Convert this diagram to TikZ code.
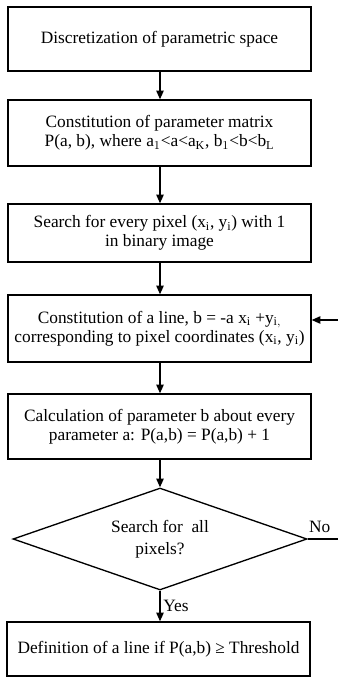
\documentclass[tikz,border=0pt]{standalone}
\usepackage{fontspec}
\setmainfont{Liberation Serif}
\usetikzlibrary{arrows.meta,shapes.geometric}
\begin{document}
\begin{tikzpicture}[x=0.75pt,y=-0.75pt,
  font=\fontsize{13}{14.5}\selectfont,
  box/.style={draw,line width=1pt,rectangle,minimum width=227.25pt,align=center,inner sep=0pt},
  dec/.style={draw,line width=1pt,diamond,aspect=2.88,minimum width=220.5pt,minimum height=76.5pt,inner sep=0pt,align=center},
  arr/.style={line width=1pt,-{Triangle[length=6.5pt,width=5.5pt]}},
  lab/.style={inner sep=0pt}]
\useasboundingbox (0,0) rectangle (338,689);
\node[box,minimum height=48pt] (b1) at (159.5,39) {Discretization of parametric space};
\node[box,minimum height=49.5pt] (b2) at (159.5,133) {Constitution of parameter matrix\\P(a, b), where a$_1$<a<a$_\mathrm{K}$, b$_1$<b<b$_\mathrm{L}$};
\node[box,minimum height=43.5pt] (b3) at (159.5,233) {Search for every pixel (x$_\mathrm{i}$, y$_\mathrm{i}$) with 1\\in binary image};
\node[box,minimum height=50.25pt] (b4) at (159.5,328.5) {Constitution of a line, b = -a x$_\mathrm{i}$ +y$_\mathrm{i,}$\\corresponding to pixel coordinates (x$_\mathrm{i}$, y$_\mathrm{i}$)};
\node[box,minimum height=48.75pt] (b5) at (159.5,426.5) {Calculation of parameter b about every\\parameter a: P(a,b) = P(a,b) + 1};
\node[dec] (d) at (160,539) {Search for\ \ all\\[2pt]pixels?};
\node[box,minimum height=40.5pt] (b6) at (158.5,649) {Definition of a line if P(a,b) ≥ Threshold};
\coordinate (fb) at (338,320);
\coordinate (no) at (338,539);
\draw[arr] (b1.south -| 160,0) -- (b2.north -| 160,0);
\draw[arr] (b2.south -| 160,0) -- (b3.north -| 160,0);
\draw[arr] (b3.south -| 160,0) -- (b4.north -| 160,0);
\draw[arr] (b4.south -| 160,0) -- (b5.north -| 160,0);
\draw[arr] (b5.south -| 160,0) -- (d.north);
\draw[arr] (d.south) -- node[lab,right,xshift=2pt,pos=0.5]{Yes} (b6.north -| d.south);
\draw[line width=1pt] (d.east) -- node[lab,above,yshift=4pt,pos=0.4]{No} (no);
\draw[arr] (fb) -- (b4.east |- fb);
\end{tikzpicture}
\end{document}
